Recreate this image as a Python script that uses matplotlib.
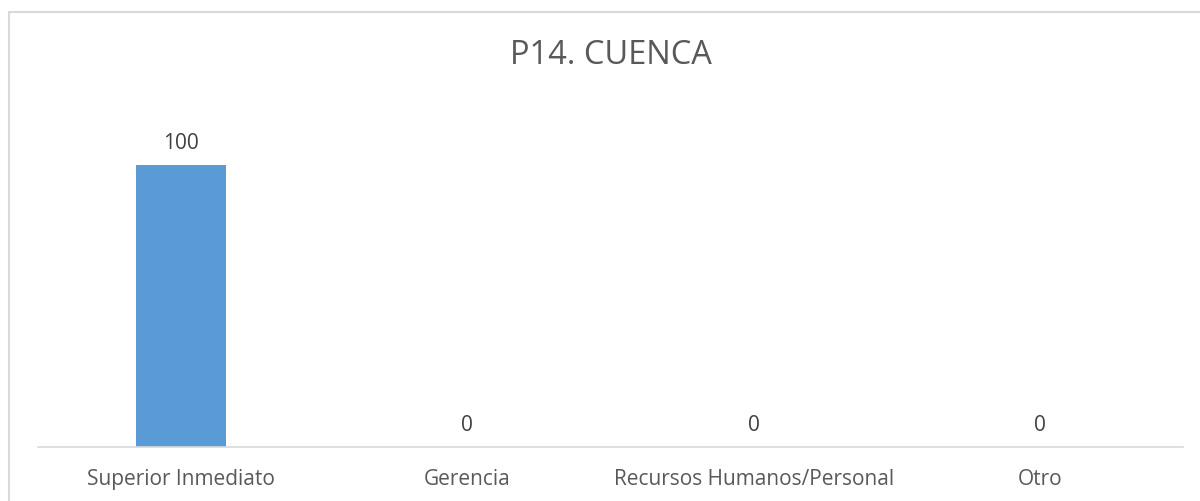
import matplotlib
matplotlib.use('Agg')
import matplotlib.pyplot as plt
from matplotlib.patches import Rectangle

categories = ['Superior Inmediato', 'Gerencia', 'Recursos Humanos/Personal', 'Otro']
values = [100, 0, 0, 0]

plt.rcParams['font.family'] = ['Open Sans', 'DejaVu Sans']

fig = plt.figure(figsize=(12, 5.01), dpi=100)

# light gray chart border (runs off the right and bottom edges)
fig.patches.append(Rectangle((8.5 / 1200, -0.1), 1.2, (501 - 11.5) / 501 + 0.1,
                             transform=fig.transFigure, fill=False,
                             edgecolor='#d9d9d9', linewidth=1.5))

ax = fig.add_axes([38 / 1200, (501 - 447) / 501, 1145 / 1200, 352 / 501])
x = range(len(categories))
bars = ax.bar(x, values, width=0.315, color='#5B9BD5')
ax.set_xlim(-0.5, len(categories) - 0.5)
ax.set_ylim(0, 125)

for i, v in enumerate(values):
    ax.text(i, v + 4, str(v), ha='center', va='bottom', fontsize=15, color='#404040')

ax.set_xticks(list(x))
ax.set_xticklabels(categories, fontsize=15, color='#595959')
ax.tick_params(axis='x', length=0, pad=16)
ax.set_yticks([])
for s in ['top', 'right', 'left']:
    ax.spines[s].set_visible(False)
ax.spines['bottom'].set_color('#d9d9d9')
ax.spines['bottom'].set_linewidth(1.2)

fig.text(611 / 1200, 1 - 55 / 501, 'P14. CUENCA', ha='center', va='center',
         fontsize=23.5, color='#595959')

fig.savefig('out.png', dpi=100)
